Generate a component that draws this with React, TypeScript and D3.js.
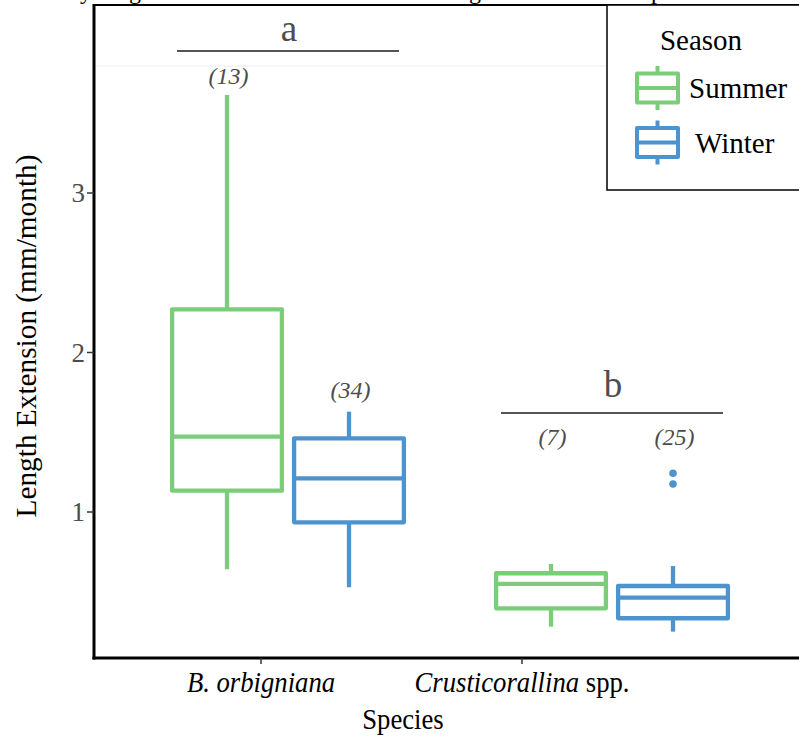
import React from "react";
import * as d3 from "d3";

const species = ["B. orbigniana", "Crusticorallina spp."];
const seasons = ["Summer", "Winter"];
const counts = [[13, 34], [7, 25]];
// [lowerWhisker, q1, median, q3, upperWhisker]
const summerStats = [
  [0.641, 1.134, 1.472, 2.271, 3.615],
  [0.281, 0.396, 0.549, 0.616, 0.674],
];
const winterStats = [
  [0.528, 0.935, 1.211, 1.462, 1.629],
  [0.25, 0.334, 0.463, 0.536, 0.661],
];
const winterOutliers = [[], [1.243, 1.176]];
const countLabelAt = [[3.735, 1.765], [1.475, 1.475]];
const sigLetters = ["a", "b"];
const sigLineAt = [3.89, 1.62];
const sigLetterAt = [3.953, 1.721];
const yTicks = [1, 2, 3];
const seasonColors = ["#7ccd7a", "#4d94ce"];

const W = 799;
const H = 740;
const FONT = "Liberation Serif, DejaVu Serif, serif";
const SQ = 0.89;

export default function App() {
  const y = d3.scaleLinear().domain([1, 3]).range([512, 193]);
  const xGroup = d3.scaleBand<string>().domain(species).range([126, 774]);
  const xInner = d3.scaleBand<string>().domain(seasons).range([40, 284]);
  const xTick = d3.scalePoint<string>().domain(species).range([261, 522]);
  const boxW = xInner.bandwidth() * 0.9;

  const statsBySeason = [summerStats, winterStats];
  const left = 94, bottom = 658, top = 5;

  return (
    <svg
      width={W}
      height={H}
      style={{ position: "absolute", left: 0, top: 0, background: "#fff", fontFamily: FONT }}
    >
      {/* clipped caption remnants at top */}
      <g fontSize={24} fill="#000">
        <text x={80} y={-1}>y</text>
        <text x={129} y={-1}>g</text>
        <text x={469} y={-1}>g</text>
        <text x={651} y={-1}>p</text>
      </g>
      {/* faint overlay edge */}
      <line x1={left + 1} x2={607} y1={66} y2={66} stroke="#eeeeee" strokeWidth={1} />

      {/* boxes */}
      {species.map((sp, si) =>
        seasons.map((se, ki) => {
          const s = statsBySeason[ki][si];
          const cx = (xGroup(sp) as number) + (xInner(se) as number) + xInner.bandwidth() / 2;
          const col = seasonColors[ki];
          const outs = ki === 1 ? winterOutliers[si] : [];
          return (
            <g key={sp + se} stroke={col} strokeWidth={4.3} fill="none" strokeLinejoin="round">
              <line x1={cx} x2={cx} y1={y(s[4])} y2={y(s[3])} />
              <line x1={cx} x2={cx} y1={y(s[1])} y2={y(s[0])} />
              <rect x={cx - boxW / 2} y={y(s[3])} width={boxW} height={y(s[1]) - y(s[3])} />
              <line x1={cx - boxW / 2} x2={cx + boxW / 2} y1={y(s[2])} y2={y(s[2])} />
              {outs.map((o, oi) => (
                <circle key={oi} cx={cx} cy={y(o)} r={3.8} fill={col} stroke="none" />
              ))}
              <text
                x={cx + 1.5}
                y={y(countLabelAt[si][ki])}
                dy="0.35em"
                textAnchor="middle"
                fontSize={24}
                fontStyle="italic"
                fill="#4d4d4d"
                stroke="none"
              >
                ({counts[si][ki]})
              </text>
            </g>
          );
        })
      )}

      {/* significance letters */}
      {species.map((sp, si) => {
        const cx = (xGroup(sp) as number) + xGroup.bandwidth() / 2;
        const lineY = y(sigLineAt[si]);
        return (
          <g key={"sig" + sp}>
            <line x1={cx - 111} x2={cx + 111} y1={lineY} y2={lineY} stroke="#555" strokeWidth={2} />
            <text x={cx + 1} y={y(sigLetterAt[si])} textAnchor="middle" fontSize={37} fill="#4d4d4d">
              {sigLetters[si]}
            </text>
          </g>
        );
      })}

      {/* axes */}
      <line x1={left} x2={W} y1={top} y2={top} stroke="#000" strokeWidth={2} />
      <line x1={left} x2={left} y1={top - 1} y2={bottom + 1.5} stroke="#000" strokeWidth={3} />
      <line x1={left - 1.5} x2={W} y1={bottom} y2={bottom} stroke="#000" strokeWidth={3} />

      {yTicks.map((t) => (
        <g key={t}>
          <line x1={left - 7} x2={left} y1={y(t)} y2={y(t)} stroke="#333" strokeWidth={1.5} />
          <text x={left - 9} y={y(t)} dy="0.35em" textAnchor="end" fontSize={27} fill="#4d4d4d">
            {t}
          </text>
        </g>
      ))}

      {species.map((sp) => (
        <g key={"xt" + sp}>
          <line x1={xTick(sp)} x2={xTick(sp)} y1={bottom} y2={bottom + 6} stroke="#333" strokeWidth={1.5} />
          <text
            transform={`translate(${xTick(sp)}, ${bottom + 34}) scale(${SQ}, 1)`}
            textAnchor="middle"
            fontSize={30}
            fill="#000"
          >
            {sp.endsWith(" spp.") ? (
              <>
                <tspan fontStyle="italic">{sp.replace(" spp.", "")}</tspan>
                <tspan> spp.</tspan>
              </>
            ) : (
              <tspan fontStyle="italic">{sp}</tspan>
            )}
          </text>
        </g>
      ))}

      <text
        transform={`translate(403, 729) scale(${SQ}, 1)`}
        textAnchor="middle"
        fontSize={30}
        fill="#000"
      >
        Species
      </text>
      <text
        transform={`translate(36, 336) rotate(-90)`}
        textAnchor="middle"
        fontSize={29.3}
        fill="#000"
      >
        Length Extension (mm/month)
      </text>

      {/* legend */}
      <rect x={607} y={top} width={W - 607 + 5} height={190 - top} fill="#fff" stroke="#000" strokeWidth={1.5} />
      <text x={701} y={50} textAnchor="middle" fontSize={29} fill="#000">
        Season
      </text>
      {seasons.map((se, ki) => {
        const cy = 88 + ki * 54.5;
        const col = seasonColors[ki];
        return (
          <g key={"lg" + se}>
            <g stroke={col} strokeWidth={4} fill="none" strokeLinejoin="round">
              <line x1={657.5} x2={657.5} y1={cy - 22} y2={cy + 22} />
              <rect x={637} y={cy - 14.5} width={41} height={29} fill="#fff" />
              <line x1={637} x2={678} y1={cy} y2={cy} />
            </g>
            <text x={ki === 0 ? 689 : 695} y={cy} dy="0.35em" fontSize={29} fill="#000">
              {se}
            </text>
          </g>
        );
      })}
    </svg>
  );
}
